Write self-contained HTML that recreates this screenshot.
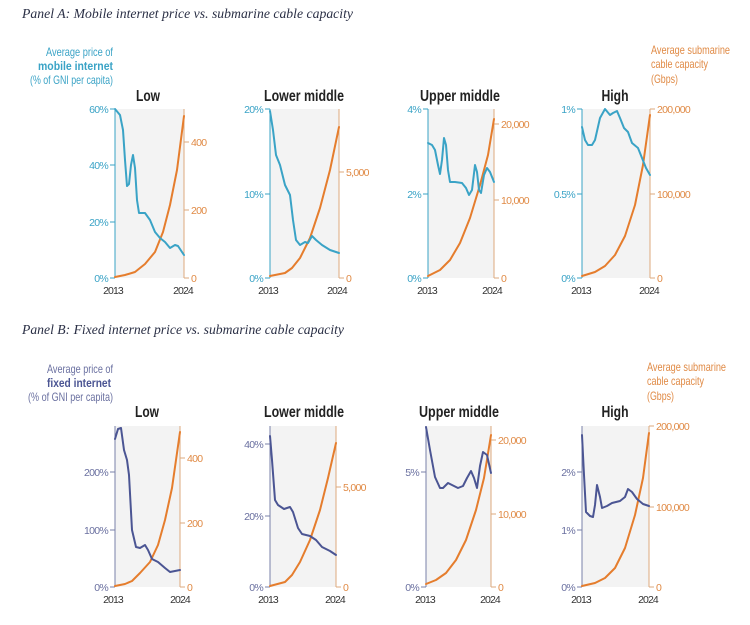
<!DOCTYPE html>
<html><head><meta charset="utf-8"><style>
html,body{margin:0;padding:0;background:#fff;}
svg{display:block;}
.t{font-family:"Liberation Serif",serif;font-style:italic;font-size:14px;fill:#2a2f45;}
.h{font-family:"Liberation Sans",sans-serif;font-weight:bold;font-size:16px;fill:#222;text-anchor:middle;}
.lb{font-family:"Liberation Sans",sans-serif;font-size:12px;}
.tk{font-family:"Liberation Sans",sans-serif;font-size:10.5px;letter-spacing:-0.7px;}
.yr{font-family:"Liberation Sans",sans-serif;font-size:10.5px;fill:#333;text-anchor:middle;letter-spacing:-0.9px;}
.bl{fill:none;stroke:#3aa3c6;stroke-width:2;stroke-linejoin:round;stroke-linecap:round;}
.db{fill:none;stroke:#4b5593;stroke-width:2;stroke-linejoin:round;stroke-linecap:round;}
.or{fill:none;stroke:#e57d2d;stroke-width:2;stroke-linejoin:round;stroke-linecap:round;}
.ra{stroke:#deaa7c;stroke-width:1;}
.lab{stroke:#3aa3c6;stroke-width:1;}
.lad{stroke:#7a80a8;stroke-width:1;}
</style></head><body>
<svg width="750" height="625" viewBox="0 0 750 625" xmlns="http://www.w3.org/2000/svg">
<text class="t" x="22" y="18" textLength="331" lengthAdjust="spacingAndGlyphs">Panel A: Mobile internet price vs. submarine cable capacity</text>
<text class="t" x="22" y="334" textLength="322" lengthAdjust="spacingAndGlyphs">Panel B: Fixed internet price vs. submarine cable capacity</text>

<text class="lb" x="113" y="56" text-anchor="end" fill="#3aa3c6" textLength="67" lengthAdjust="spacingAndGlyphs">Average price of</text>
<text class="lb" x="113" y="70" text-anchor="end" fill="#3aa3c6" font-weight="bold" textLength="75" lengthAdjust="spacingAndGlyphs">mobile internet</text>
<text class="lb" x="113" y="84" text-anchor="end" fill="#3aa3c6" textLength="83" lengthAdjust="spacingAndGlyphs">(% of GNI per capita)</text>
<text class="lb" x="651" y="54" fill="#e08a45" textLength="79" lengthAdjust="spacingAndGlyphs">Average submarine</text>
<text class="lb" x="651" y="68" fill="#e08a45" textLength="57" lengthAdjust="spacingAndGlyphs">cable capacity</text>
<text class="lb" x="651" y="83" fill="#e08a45" textLength="27" lengthAdjust="spacingAndGlyphs">(Gbps)</text>

<text class="lb" x="113" y="373" text-anchor="end" fill="#6a70a0" textLength="66" lengthAdjust="spacingAndGlyphs">Average price of</text>
<text class="lb" x="111" y="387" text-anchor="end" fill="#4b5593" font-weight="bold" textLength="64" lengthAdjust="spacingAndGlyphs">fixed internet</text>
<text class="lb" x="113" y="401" text-anchor="end" fill="#6a70a0" textLength="85" lengthAdjust="spacingAndGlyphs">(% of GNI per capita)</text>
<text class="lb" x="647" y="371" fill="#e08a45" textLength="79" lengthAdjust="spacingAndGlyphs">Average submarine</text>
<text class="lb" x="647" y="385" fill="#e08a45" textLength="57" lengthAdjust="spacingAndGlyphs">cable capacity</text>
<text class="lb" x="647" y="400" fill="#e08a45" textLength="27" lengthAdjust="spacingAndGlyphs">(Gbps)</text>

<!-- ===== Panel A ===== -->
<rect x="115" y="109" width="69" height="169" fill="#f3f3f3"/>
<text class="h" x="148" y="101" textLength="24" lengthAdjust="spacingAndGlyphs">Low</text>
<line class="lab" x1="115" y1="109" x2="115" y2="278"/>
<line class="ra" x1="184" y1="109" x2="184" y2="278"/>
<g class="lab"><line x1="110" y1="109" x2="115" y2="109"/><line x1="110" y1="165" x2="115" y2="165"/><line x1="110" y1="222" x2="115" y2="222"/><line x1="110" y1="278" x2="115" y2="278"/></g>
<g class="tk" fill="#3aa3c6" text-anchor="end"><text x="108" y="113">60%</text><text x="108" y="169">40%</text><text x="108" y="226">20%</text><text x="108" y="282">0%</text></g>
<g class="ra"><line x1="184" y1="142" x2="189" y2="142"/><line x1="184" y1="210" x2="189" y2="210"/><line x1="184" y1="278" x2="189" y2="278"/></g>
<g class="tk" fill="#e08a45"><text x="191" y="146">400</text><text x="191" y="214">200</text><text x="191" y="282">0</text></g>
<text class="yr" x="113" y="294">2013</text><text class="yr" x="183" y="294">2024</text>
<polyline class="or" points="115,277 125,275 135,272 145,264 155,252 163,232 170,205 177,170 184,116"/>
<polyline class="bl" points="115,109 120,115 123,130 125,160 127,186 129,184 131,165 133,155 135,168 137,200 139,213 145,213 150,220 155,232 160,238 165,242 170,248 175,245 178,246 184,255"/>

<rect x="270" y="109" width="69" height="169" fill="#f3f3f3"/>
<text class="h" x="304" y="101" textLength="80" lengthAdjust="spacingAndGlyphs">Lower middle</text>
<line class="lab" x1="270" y1="109" x2="270" y2="278"/>
<line class="ra" x1="339" y1="109" x2="339" y2="278"/>
<g class="lab"><line x1="265" y1="109" x2="270" y2="109"/><line x1="265" y1="194" x2="270" y2="194"/><line x1="265" y1="278" x2="270" y2="278"/></g>
<g class="tk" fill="#3aa3c6" text-anchor="end"><text x="263" y="113">20%</text><text x="263" y="198">10%</text><text x="263" y="282">0%</text></g>
<g class="ra"><line x1="339" y1="172" x2="344" y2="172"/><line x1="339" y1="278" x2="344" y2="278"/></g>
<g class="tk" fill="#e08a45"><text x="346" y="176">5,000</text><text x="346" y="282">0</text></g>
<text class="yr" x="268" y="294">2013</text><text class="yr" x="337" y="294">2024</text>
<polyline class="or" points="270,276 285,273 292,268 300,258 310,238 320,208 330,170 339,127"/>
<polyline class="bl" points="270,111 273,130 276,155 280,165 285,185 290,195 293,220 296,240 300,245 305,242 308,243 312,236 316,240 322,245 330,250 339,253"/>

<rect x="428" y="109" width="66" height="169" fill="#f3f3f3"/>
<text class="h" x="460" y="101" textLength="80" lengthAdjust="spacingAndGlyphs">Upper middle</text>
<line class="lab" x1="428" y1="109" x2="428" y2="278"/>
<line class="ra" x1="494" y1="109" x2="494" y2="278"/>
<g class="lab"><line x1="423" y1="109" x2="428" y2="109"/><line x1="423" y1="194" x2="428" y2="194"/><line x1="423" y1="278" x2="428" y2="278"/></g>
<g class="tk" fill="#3aa3c6" text-anchor="end"><text x="421" y="113">4%</text><text x="421" y="198">2%</text><text x="421" y="282">0%</text></g>
<g class="ra"><line x1="494" y1="124" x2="499" y2="124"/><line x1="494" y1="200" x2="499" y2="200"/><line x1="494" y1="278" x2="499" y2="278"/></g>
<g class="tk" fill="#e08a45"><text x="501" y="128">20,000</text><text x="501" y="204">10,000</text><text x="501" y="282">0</text></g>
<text class="yr" x="427" y="294">2013</text><text class="yr" x="492" y="294">2024</text>
<polyline class="or" points="428,276 440,270 450,260 460,243 470,218 480,185 488,155 494,119"/>
<polyline class="bl" points="428,143 432,145 435,150 438,165 440,174 442,160 444,138 446,145 448,170 450,182 455,182 462,183 466,188 469,195 472,190 475,165 477,172 479,190 481,193 484,175 487,168 490,172 494,182"/>

<rect x="582" y="109" width="68" height="169" fill="#f3f3f3"/>
<text class="h" x="615" y="101" textLength="27" lengthAdjust="spacingAndGlyphs">High</text>
<line class="lab" x1="582" y1="109" x2="582" y2="278"/>
<line class="ra" x1="650" y1="109" x2="650" y2="278"/>
<g class="lab"><line x1="577" y1="109" x2="582" y2="109"/><line x1="577" y1="194" x2="582" y2="194"/><line x1="577" y1="278" x2="582" y2="278"/></g>
<g class="tk" fill="#3aa3c6" text-anchor="end"><text x="575" y="113">1%</text><text x="575" y="198">0.5%</text><text x="575" y="282">0%</text></g>
<g class="ra"><line x1="650" y1="109" x2="655" y2="109"/><line x1="650" y1="194" x2="655" y2="194"/><line x1="650" y1="278" x2="655" y2="278"/></g>
<g class="tk" fill="#e08a45"><text x="657" y="113">200,000</text><text x="657" y="198">100,000</text><text x="657" y="282">0</text></g>
<text class="yr" x="581" y="294">2013</text><text class="yr" x="649" y="294">2024</text>
<polyline class="or" points="582,276 595,272 605,266 615,255 625,236 635,205 643,165 650,115"/>
<polyline class="bl" points="582,127 585,140 588,145 592,145 595,140 600,118 605,109 610,115 613,113 617,111 620,118 624,128 628,132 632,143 638,148 642,158 646,168 650,175"/>

<!-- ===== Panel B ===== -->
<rect x="115" y="426" width="65" height="161" fill="#f3f3f3"/>
<text class="h" x="147" y="417" textLength="24" lengthAdjust="spacingAndGlyphs">Low</text>
<line class="lad" x1="115" y1="426" x2="115" y2="587"/>
<line class="ra" x1="180" y1="426" x2="180" y2="587"/>
<g class="lad"><line x1="110" y1="472" x2="115" y2="472"/><line x1="110" y1="530" x2="115" y2="530"/><line x1="110" y1="587" x2="115" y2="587"/></g>
<g class="tk" fill="#6a70a0" text-anchor="end"><text x="108" y="476">200%</text><text x="108" y="534">100%</text><text x="108" y="591">0%</text></g>
<g class="ra"><line x1="180" y1="458" x2="185" y2="458"/><line x1="180" y1="523" x2="185" y2="523"/><line x1="180" y1="587" x2="185" y2="587"/></g>
<g class="tk" fill="#e08a45"><text x="187" y="462">400</text><text x="187" y="527">200</text><text x="187" y="591">0</text></g>
<text class="yr" x="113" y="603">2013</text><text class="yr" x="180" y="603">2024</text>
<polyline class="or" points="115,586 125,584 132,581 140,573 150,562 158,545 165,520 172,488 180,432"/>
<polyline class="db" points="115,439 118,429 121,428 124,450 127,460 129,475 132,530 136,547 140,548 145,545 148,550 152,559 158,562 165,568 170,572 180,570"/>

<rect x="270" y="426" width="66" height="161" fill="#f3f3f3"/>
<text class="h" x="304" y="417" textLength="80" lengthAdjust="spacingAndGlyphs">Lower middle</text>
<line class="lad" x1="270" y1="426" x2="270" y2="587"/>
<line class="ra" x1="336" y1="426" x2="336" y2="587"/>
<g class="lad"><line x1="265" y1="444" x2="270" y2="444"/><line x1="265" y1="516" x2="270" y2="516"/><line x1="265" y1="587" x2="270" y2="587"/></g>
<g class="tk" fill="#6a70a0" text-anchor="end"><text x="263" y="448">40%</text><text x="263" y="520">20%</text><text x="263" y="591">0%</text></g>
<g class="ra"><line x1="336" y1="487" x2="341" y2="487"/><line x1="336" y1="587" x2="341" y2="587"/></g>
<g class="tk" fill="#e08a45"><text x="343" y="491">5,000</text><text x="343" y="591">0</text></g>
<text class="yr" x="268" y="603">2013</text><text class="yr" x="335" y="603">2024</text>
<polyline class="or" points="270,586 285,582 292,575 300,562 310,540 320,510 328,478 336,443"/>
<polyline class="db" points="270,436 272,460 275,500 278,505 284,509 290,507 293,512 298,528 302,534 310,536 316,540 322,547 330,551 336,555"/>

<rect x="426" y="426" width="65" height="161" fill="#f3f3f3"/>
<text class="h" x="459" y="417" textLength="80" lengthAdjust="spacingAndGlyphs">Upper middle</text>
<line class="lad" x1="426" y1="426" x2="426" y2="587"/>
<line class="ra" x1="491" y1="426" x2="491" y2="587"/>
<g class="lad"><line x1="421" y1="472" x2="426" y2="472"/><line x1="421" y1="587" x2="426" y2="587"/></g>
<g class="tk" fill="#6a70a0" text-anchor="end"><text x="419" y="476">5%</text><text x="419" y="591">0%</text></g>
<g class="ra"><line x1="491" y1="440" x2="496" y2="440"/><line x1="491" y1="514" x2="496" y2="514"/><line x1="491" y1="587" x2="496" y2="587"/></g>
<g class="tk" fill="#e08a45"><text x="498" y="444">20,000</text><text x="498" y="518">10,000</text><text x="498" y="591">0</text></g>
<text class="yr" x="425" y="603">2013</text><text class="yr" x="490" y="603">2024</text>
<polyline class="or" points="426,584 436,580 446,573 456,560 466,540 476,510 484,478 491,435"/>
<polyline class="db" points="426,427 430,450 435,477 440,488 443,488 448,483 452,485 458,488 463,486 467,478 471,471 474,478 477,488 480,466 483,452 487,455 491,473"/>

<rect x="582" y="426" width="67" height="161" fill="#f3f3f3"/>
<text class="h" x="615" y="417" textLength="27" lengthAdjust="spacingAndGlyphs">High</text>
<line class="lad" x1="582" y1="426" x2="582" y2="587"/>
<line class="ra" x1="649" y1="426" x2="649" y2="587"/>
<g class="lad"><line x1="577" y1="472" x2="582" y2="472"/><line x1="577" y1="530" x2="582" y2="530"/><line x1="577" y1="587" x2="582" y2="587"/></g>
<g class="tk" fill="#6a70a0" text-anchor="end"><text x="575" y="476">2%</text><text x="575" y="534">1%</text><text x="575" y="591">0%</text></g>
<g class="ra"><line x1="649" y1="426" x2="654" y2="426"/><line x1="649" y1="507" x2="654" y2="507"/><line x1="649" y1="587" x2="654" y2="587"/></g>
<g class="tk" fill="#e08a45"><text x="656" y="430">200,000</text><text x="656" y="511">100,000</text><text x="656" y="591">0</text></g>
<text class="yr" x="581" y="603">2013</text><text class="yr" x="648" y="603">2024</text>
<polyline class="or" points="582,586 595,583 605,578 615,568 625,548 635,515 643,478 649,433"/>
<polyline class="db" points="582,435 584,475 586,512 590,516 593,517 595,505 597,485 600,497 602,508 607,506 612,503 620,501 625,497 628,489 632,492 637,499 643,504 649,506"/>
</svg>
</body></html>
